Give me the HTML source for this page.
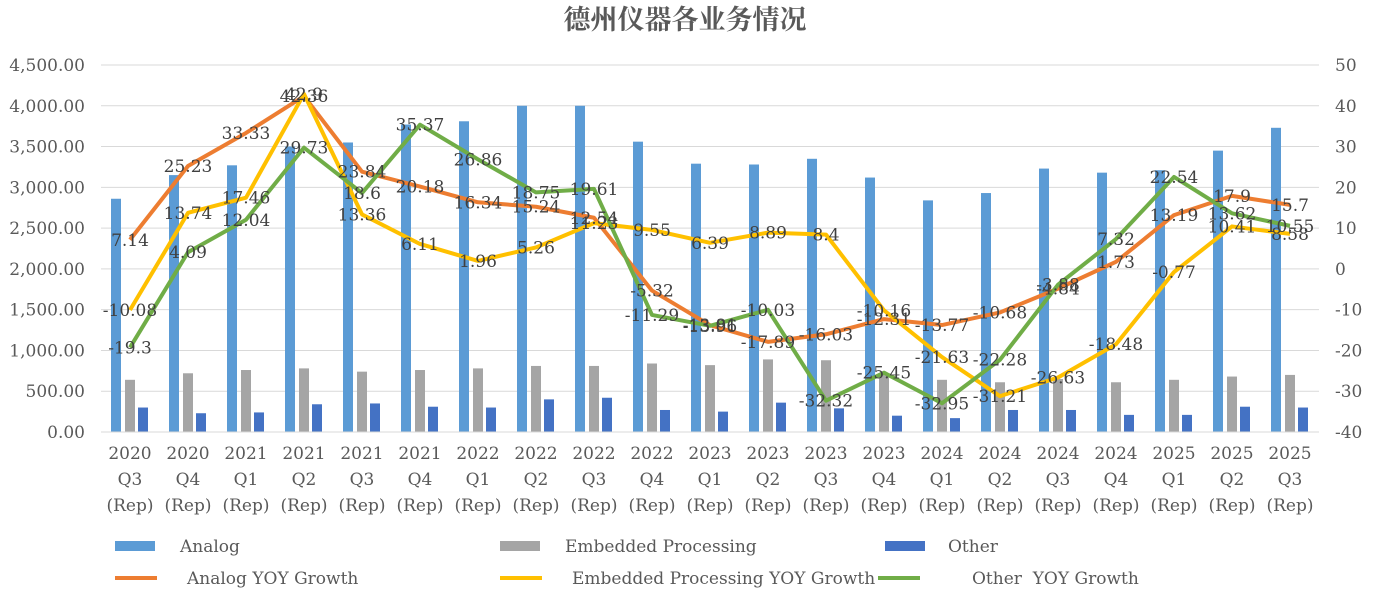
<!DOCTYPE html>
<html><head><meta charset="utf-8"><style>
body{margin:0;background:#fff}
svg{display:block;font-family:"DejaVu Serif","Noto Serif CJK SC",serif}
text{white-space:pre}
</style></head><body>
<svg id="c" width="1374" height="603"></svg>
<script>
const categories=[["2020","Q3"],["2020","Q4"],["2021","Q1"],["2021","Q2"],["2021","Q3"],["2021","Q4"],["2022","Q1"],["2022","Q2"],["2022","Q3"],["2022","Q4"],["2023","Q1"],["2023","Q2"],["2023","Q3"],["2023","Q4"],["2024","Q1"],["2024","Q2"],["2024","Q3"],["2024","Q4"],["2025","Q1"],["2025","Q2"],["2025","Q3"]];
const analog=[2860,3150,3270,3500,3550,3770,3810,4000,4000,3560,3290,3280,3350,3120,2840,2930,3230,3180,3210,3450,3730];
const embedded=[640,720,760,780,740,760,780,810,810,840,820,890,880,700,640,610,650,610,640,680,700];
const other=[300,230,240,340,350,310,300,400,420,270,250,360,290,200,170,270,270,210,210,310,300];
const analogYoy=[7.14,25.23,33.33,42.36,23.84,20.18,16.34,15.24,12.54,-5.32,-13.81,-17.89,-16.03,-12.31,-13.77,-10.68,-4.84,1.73,13.19,17.9,15.7];
const embYoy=[-10.08,13.74,17.46,42.9,13.36,6.11,1.96,5.26,11.23,9.55,6.39,8.89,8.4,-10.16,-21.63,-31.21,-26.63,-18.48,-0.77,10.41,8.58];
const otherYoy=[-19.3,4.09,12.04,29.73,18.6,35.37,26.86,18.75,19.61,-11.29,-13.96,-10.03,-32.32,-25.45,-32.95,-22.28,-3.88,7.32,22.54,13.62,10.55];
const leftTicks=[0,500,1000,1500,2000,2500,3000,3500,4000,4500];
const rightTicks=[-40,-30,-20,-10,0,10,20,30,40,50];
const NS="http://www.w3.org/2000/svg";
const svg=document.getElementById('c');
function el(t,a,txt){const e=document.createElementNS(NS,t);for(const k in a)e.setAttribute(k,a[k]);if(txt!==undefined)e.textContent=txt;svg.appendChild(e);return e;}
const X0=101,BW=58,Y0=432,Y1=65;
const xc=i=>X0+BW*i+BW/2;
const yl=v=>Y0-(v/4500)*(Y0-Y1);
const yr=v=>Y0-((v+40)/90)*(Y0-Y1);
let t=el('text',{x:685,y:29,'text-anchor':'middle','font-size':27,'font-weight':'bold',fill:'#595959'},'德州仪器各业务情况');

leftTicks.forEach(v=>{
 let g=el('line',{x1:X0,x2:1319,y1:yl(v),y2:yl(v),stroke:'#d9d9d9','stroke-width':1});
 
 let l=el('text',{x:85,y:yl(v)+6,'text-anchor':'end','font-size':17,fill:'#595959'},v.toFixed(2).replace(/\B(?=(\d{3})+(?!\d))/g,','));
 
});
rightTicks.forEach(v=>{
 let l=el('text',{x:1335,y:yr(v)+6,'font-size':17,fill:'#595959'},String(v));
 
});
categories.forEach((c,i)=>{
 [c[0],c[1],'(Rep)'].forEach((s,k)=>{
  let l=el('text',{x:xc(i),y:459+k*26,'text-anchor':'middle','font-size':17,fill:'#595959'},s);
  
 });
});
const bars=[[analog,-14,'#5b9bd5','bar-analog'],[embedded,0,'#a5a5a5','bar-embedded'],[other,13,'#4472c4','bar-other']];
bars.forEach(([arr,off,col,nm])=>arr.forEach((v,i)=>{
 let r=el('rect',{x:xc(i)+off-5,y:yl(v),width:10,height:Y0-yl(v),fill:col});
 
}));
const lines=[[analogYoy,'#ed7d31','line-analog-yoy'],[embYoy,'#ffc000','line-embedded-yoy'],[otherYoy,'#70ad47','line-other-yoy']];
lines.forEach(([arr,col,nm])=>{
 let p=el('polyline',{points:arr.map((v,i)=>xc(i)+','+yr(v)).join(' '),fill:'none',stroke:col,'stroke-width':4,'stroke-linejoin':'round'});
 
});
lines.forEach(([arr])=>arr.forEach((v,i)=>{
 let l=el('text',{x:xc(i),y:yr(v)+6,'text-anchor':'middle','font-size':17,fill:'#404040'},String(v));
 
}));
el('line',{x1:X0,x2:1319,y1:Y0,y2:Y0,stroke:'#d9d9d9'});
const legend=[[115,546,'rect','#5b9bd5','Analog',180],[500,546,'rect','#a5a5a5','Embedded Processing',565],[885,546,'rect','#4472c4','Other',948],
[115,578,'line','#ed7d31','Analog YOY Growth',187],[500,578,'line','#ffc000','Embedded Processing YOY Growth',572],[878,578,'line','#70ad47','Other  YOY Growth',972]];
legend.forEach(([x,y,k,col,txt,tx])=>{
 let s=k==='rect'?el('rect',{x:x,y:y-5,width:40,height:10,fill:col}):el('line',{x1:x,x2:x+42,y1:y,y2:y,stroke:col,'stroke-width':4});
 
 let l=el('text',{x:tx,y:y+6,'font-size':17,fill:'#595959'},txt);
 
});
</script>
</body></html>
